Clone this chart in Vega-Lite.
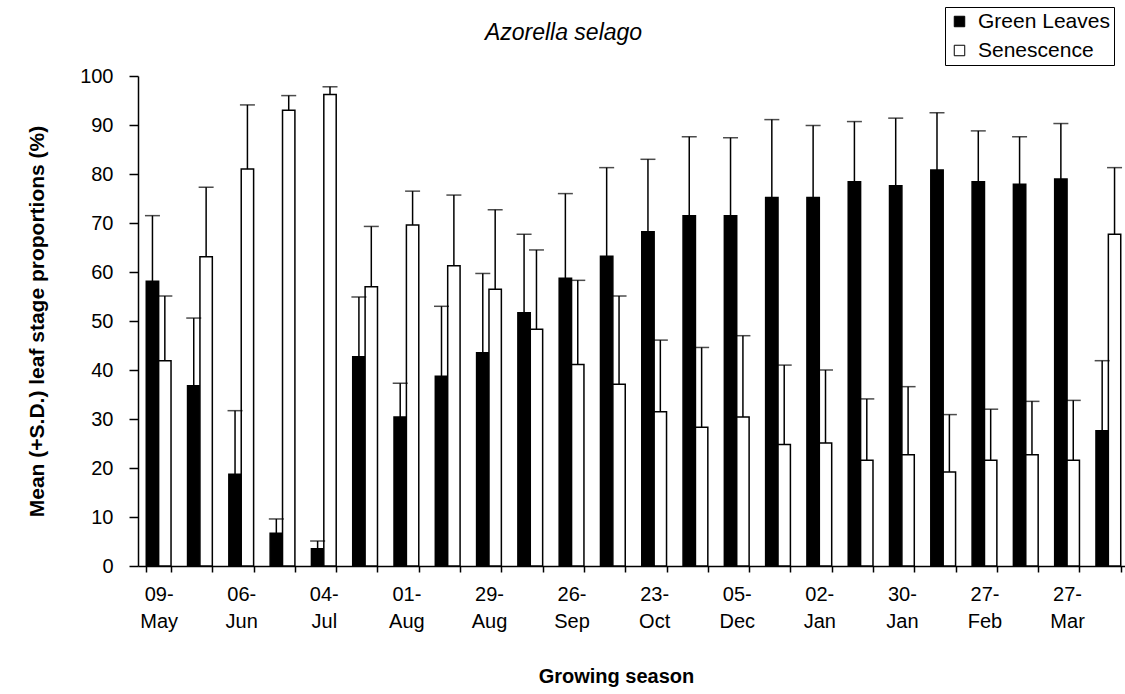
{
  "$schema": "https://vega.github.io/schema/vega-lite/v6.json",
  "width": 991,
  "height": 490,
  "autosize": {"type": "none"},
  "padding": {"left": 138, "top": 76, "right": 0, "bottom": 128},
  "background": "white",
  "config": {
    "view": {"stroke": null},
    "font": "Liberation Sans",
    "axis": {
      "domainColor": "black",
      "domainWidth": 1.5,
      "tickColor": "black",
      "tickWidth": 1.5,
      "labelColor": "black",
      "titleColor": "black",
      "labelFont": "Liberation Sans",
      "titleFont": "Liberation Sans",
      "grid": false
    }
  },
  "title": {
    "text": "Azorella selago",
    "font": "Liberation Sans",
    "fontStyle": "italic",
    "fontWeight": "normal",
    "fontSize": 23,
    "color": "black",
    "dx": -70,
    "offset": -38
  },
  "data": {
    "values": [
      {"date": "09-May", "series": "Green Leaves", "mean": 58.1, "upper": 71.5},
      {"date": "09-May", "series": "Senescence", "mean": 41.9, "upper": 55.1},
      {"date": "23-May", "series": "Green Leaves", "mean": 36.8, "upper": 50.6},
      {"date": "23-May", "series": "Senescence", "mean": 63.1, "upper": 77.3},
      {"date": "06-Jun", "series": "Green Leaves", "mean": 18.7, "upper": 31.7},
      {"date": "06-Jun", "series": "Senescence", "mean": 81.0, "upper": 94.1},
      {"date": "20-Jun", "series": "Green Leaves", "mean": 6.7, "upper": 9.6},
      {"date": "20-Jun", "series": "Senescence", "mean": 93.0, "upper": 96.0},
      {"date": "04-Jul", "series": "Green Leaves", "mean": 3.5, "upper": 5.1},
      {"date": "04-Jul", "series": "Senescence", "mean": 96.2, "upper": 97.8},
      {"date": "18-Jul", "series": "Green Leaves", "mean": 42.7, "upper": 54.9},
      {"date": "18-Jul", "series": "Senescence", "mean": 57.0, "upper": 69.3},
      {"date": "01-Aug", "series": "Green Leaves", "mean": 30.4, "upper": 37.3},
      {"date": "01-Aug", "series": "Senescence", "mean": 69.6, "upper": 76.5},
      {"date": "15-Aug", "series": "Green Leaves", "mean": 38.7, "upper": 53.0},
      {"date": "15-Aug", "series": "Senescence", "mean": 61.3, "upper": 75.7},
      {"date": "29-Aug", "series": "Green Leaves", "mean": 43.5, "upper": 59.7},
      {"date": "29-Aug", "series": "Senescence", "mean": 56.5, "upper": 72.7},
      {"date": "12-Sep", "series": "Green Leaves", "mean": 51.7, "upper": 67.7},
      {"date": "12-Sep", "series": "Senescence", "mean": 48.3, "upper": 64.5},
      {"date": "26-Sep", "series": "Green Leaves", "mean": 58.7, "upper": 76.0},
      {"date": "26-Sep", "series": "Senescence", "mean": 41.1, "upper": 58.3},
      {"date": "10-Oct", "series": "Green Leaves", "mean": 63.2, "upper": 81.3},
      {"date": "10-Oct", "series": "Senescence", "mean": 37.1, "upper": 55.1},
      {"date": "23-Oct", "series": "Green Leaves", "mean": 68.2, "upper": 83.0},
      {"date": "23-Oct", "series": "Senescence", "mean": 31.5, "upper": 46.1},
      {"date": "14-Nov", "series": "Green Leaves", "mean": 71.5, "upper": 87.6},
      {"date": "14-Nov", "series": "Senescence", "mean": 28.3, "upper": 44.6},
      {"date": "05-Dec", "series": "Green Leaves", "mean": 71.5, "upper": 87.4},
      {"date": "05-Dec", "series": "Senescence", "mean": 30.4, "upper": 47.0},
      {"date": "19-Dec", "series": "Green Leaves", "mean": 75.2, "upper": 91.1},
      {"date": "19-Dec", "series": "Senescence", "mean": 24.8, "upper": 41.0},
      {"date": "02-Jan", "series": "Green Leaves", "mean": 75.2, "upper": 89.9},
      {"date": "02-Jan", "series": "Senescence", "mean": 25.1, "upper": 40.0},
      {"date": "16-Jan", "series": "Green Leaves", "mean": 78.4, "upper": 90.7},
      {"date": "16-Jan", "series": "Senescence", "mean": 21.6, "upper": 34.1},
      {"date": "30-Jan", "series": "Green Leaves", "mean": 77.6, "upper": 91.4},
      {"date": "30-Jan", "series": "Senescence", "mean": 22.7, "upper": 36.6},
      {"date": "13-Feb", "series": "Green Leaves", "mean": 80.8, "upper": 92.5},
      {"date": "13-Feb", "series": "Senescence", "mean": 19.2, "upper": 30.9},
      {"date": "27-Feb", "series": "Green Leaves", "mean": 78.4, "upper": 88.8},
      {"date": "27-Feb", "series": "Senescence", "mean": 21.6, "upper": 32.0},
      {"date": "13-Mar", "series": "Green Leaves", "mean": 77.9, "upper": 87.6},
      {"date": "13-Mar", "series": "Senescence", "mean": 22.7, "upper": 33.6},
      {"date": "27-Mar", "series": "Green Leaves", "mean": 79.0, "upper": 90.3},
      {"date": "27-Mar", "series": "Senescence", "mean": 21.6, "upper": 33.8},
      {"date": "10-Apr", "series": "Green Leaves", "mean": 27.6, "upper": 41.9},
      {"date": "10-Apr", "series": "Senescence", "mean": 67.7, "upper": 81.3}
    ]
  },
  "encoding": {
    "x": {
      "field": "date",
      "type": "nominal",
      "sort": null,
      "scale": {"paddingInner": 0.4, "paddingOuter": 0.2},
      "axis": {
        "title": "Growing season",
        "titleFontSize": 20,
        "titleFontWeight": "bold",
        "titlePadding": 35,
        "titleX": 478,
        "labelAngle": 0,
        "labelFontSize": 20,
        "labelLineHeight": 27,
        "labelPadding": 12,
        "labelBaseline": "top",
        "tickBand": "extent",
        "tickSize": 6,
        "labelExpr": "indexof(['09-May','06-Jun','04-Jul','01-Aug','29-Aug','26-Sep','23-Oct','05-Dec','02-Jan','30-Jan','27-Feb','27-Mar'], datum.value) >= 0 ? [split(datum.value, '-')[0] + '-', split(datum.value, '-')[1]] : ''"
      }
    },
    "xOffset": {
      "field": "series",
      "type": "nominal",
      "scale": {"domain": ["Green Leaves", "Senescence"], "paddingInner": 0, "paddingOuter": 0}
    }
  },
  "layer": [
    {
      "mark": {"type": "bar", "stroke": "black", "strokeWidth": 1.5},
      "encoding": {
        "y": {
          "field": "mean",
          "type": "quantitative",
          "scale": {"domain": [0, 100], "nice": false},
          "axis": {
            "title": "Mean (+S.D.) leaf stage proportions (%)",
            "titleFontSize": 21,
            "titleFontWeight": "bold",
            "titlePadding": 32,
            "values": [0, 10, 20, 30, 40, 50, 60, 70, 80, 90, 100],
            "labelFontSize": 20,
            "labelPadding": 16,
            "tickSize": 9
          }
        },
        "color": {
          "field": "series",
          "type": "nominal",
          "scale": {"domain": ["Green Leaves", "Senescence"], "range": ["black", "white"]},
          "legend": {
            "title": null,
            "orient": "none",
            "legendX": 807,
            "legendY": -69,
            "strokeColor": "black",
            "fillColor": "white",
            "padding": 4,
            "rowPadding": 7,
            "symbolType": "square",
            "symbolSize": 110,
            "symbolStrokeColor": "black",
            "symbolStrokeWidth": 1,
            "symbolOpacity": 1,
            "labelFontSize": 21,
            "labelColor": "black",
            "labelFont": "Liberation Sans",
            "labelOffset": 8
          }
        }
      }
    },
    {
      "mark": {"type": "rule", "color": "black", "strokeWidth": 1.5},
      "encoding": {
        "y": {"field": "mean", "type": "quantitative"},
        "y2": {"field": "upper"}
      }
    },
    {
      "mark": {"type": "tick", "color": "black", "thickness": 1.5, "size": 15, "orient": "horizontal"},
      "encoding": {
        "y": {"field": "upper", "type": "quantitative"}
      }
    }
  ]
}
